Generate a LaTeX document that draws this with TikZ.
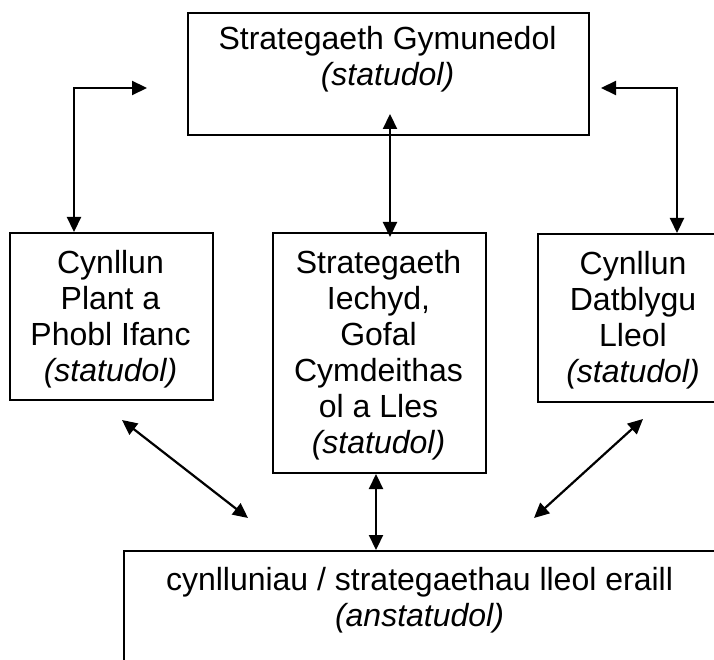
\documentclass[tikz,border=0pt]{standalone}
\usepackage{fontspec}
\setmainfont{Liberation Sans}
\usetikzlibrary{arrows.meta}
\begin{document}
\begin{tikzpicture}[x=1pt,y=-1pt,
  box/.style={draw, line width=2pt, inner sep=0pt, anchor=north west},
  txt/.style={font=\fontsize{32}{36}\selectfont, align=center, inner sep=0pt, anchor=base},
  link/.style={line width=2.2pt, {Triangle[length=15pt,width=14pt]}-{Triangle[length=15pt,width=14pt]}}]
\useasboundingbox (0,0) rectangle (714,660);
\clip (0,0) rectangle (714,660);
% boxes
\node[box, minimum width=401pt, minimum height=122pt] (top) at (187,12) {};
\node[box, minimum width=203pt, minimum height=167pt] (lb) at (9,232) {};
\node[box, minimum width=213pt, minimum height=240pt] (mb) at (272,232) {};
\node[box, minimum width=192pt, minimum height=168pt] (rb) at (537,233) {};
\node[box, minimum width=593pt, minimum height=150pt] (bb) at (123,550) {};
% texts (anchor=base is the baseline of the last line)
\node[txt] (toptxt) at (387.5,86) {Strategaeth Gymunedol\\\textit{(statudol)}};
\node[txt] (lbtxt) at (110.5,381) {Cynllun\\Plant a\\Phobl Ifanc\\\textit{(statudol)}};
\node[txt] (mbtxt) at (378.5,453) {Strategaeth\\Iechyd,\\Gofal\\Cymdeithas\\ol a Lles\\\textit{(statudol)}};
\node[txt] (rbtxt) at (633,382) {Cynllun\\Datblygu\\Lleol\\\textit{(statudol)}};
\node[txt] (bbtxt) at (419.5,626) {cynlluniau / strategaethau lleol eraill\\\textit{(anstatudol)}};
% connectors
\coordinate (la) at (147,88);
\coordinate (lc) at (74,88);
\draw[link] (la) -- (lc) -- (lc |- lb.north);
\coordinate (ra) at (601,88);
\coordinate (rc) at (677,88);
\draw[link] (ra) -- (rc) -- (rc |- rb.north);
\coordinate (c1) at (390,114);
\draw[link] (c1) -- ([yshift=-5pt]c1 |- mb.north);
\coordinate (c2) at (376,472);
\draw[link] (mb.south -| c2) -- (bb.north -| c2);
\coordinate (d1) at (122,420);
\coordinate (d2) at (248,518);
\draw[link] (d1) -- (d2);
\coordinate (e1) at (643,419);
\coordinate (e2) at (534,518);
\draw[link] (e1) -- (e2);
\end{tikzpicture}
\end{document}
